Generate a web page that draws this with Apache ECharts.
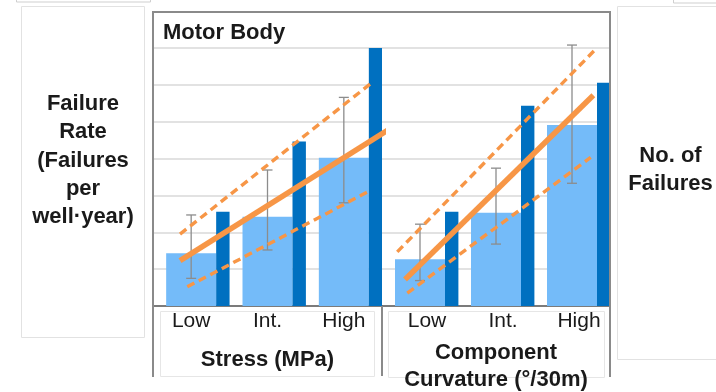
<!DOCTYPE html>
<html><head><meta charset="utf-8">
<script src="https://cdn.jsdelivr.net/npm/echarts@6/dist/echarts.min.js"></script>
<style>html,body{margin:0;padding:0;background:#fff}#c{width:716px;height:392px}</style>
</head><body><div id="c"></div>
<script>
// ---- data (gridline units; both value axes are unlabeled in the source) ----
const categories = ['Low', 'Int.', 'High'];
const stressRate = [1.43, 2.42, 4.02];
const stressCount = [2.56, 4.46, 7.03];
const stressErrLow = [0.75, 1.52, 2.80];
const stressErrHigh = [2.47, 3.69, 5.66];
const stressTrend = [[0.354, 1.23], [3.135, 4.85]];
const stressUpper = [[0.354, 1.95], [2.843, 6.02]];
const stressLower = [[0.449, 0.52], [2.843, 3.13]];
const curvRate = [1.27, 2.53, 4.91];
const curvCount = [2.56, 5.43, 6.06];
const curvErrLow = [0.69, 1.68, 3.33];
const curvErrHigh = [2.22, 3.74, 7.08];
const curvTrend = [[0.303, 0.72], [2.781, 5.72]];
const curvUpper = [[0.201, 1.47], [2.803, 6.95]];
const curvLower = [[0.333, 0.35], [2.746, 4.03]];
const yMin = 0, yMax = 7, yStep = 1;

const FONT = '"Liberation Sans", Arial, sans-serif';
const LIGHT = '#74BBF9', DARK = '#0070C0', ORANGE = '#F79646', ERR = '#8c8c8c';
const OFF = { axisLine: { show: false }, axisTick: { show: false }, axisLabel: { show: false }, splitLine: { show: false }, splitArea: { show: false } };

function errSeries(xi, yi, lo, hi) {
  return {
    type: 'custom', xAxisIndex: xi, yAxisIndex: yi, z: 4, clip: false, silent: true,
    data: categories.map((c, i) => [i, lo[i], hi[i]]),
    renderItem: function (params, api) {
      const a = api.coord([api.value(0), api.value(1)]);
      const b = api.coord([api.value(0), api.value(2)]);
      const st = { stroke: ERR, lineWidth: 1.3 };
      return { type: 'group', children: [
        { type: 'line', shape: { x1: a[0], y1: a[1], x2: b[0], y2: b[1] }, style: st },
        { type: 'line', shape: { x1: a[0] - 5, y1: a[1], x2: a[0] + 5, y2: a[1] }, style: st },
        { type: 'line', shape: { x1: b[0] - 5, y1: b[1], x2: b[0] + 5, y2: b[1] }, style: st }
      ]};
    }
  };
}
function lineSeries(xi, yi, data, solid) {
  return {
    type: 'line', xAxisIndex: xi, yAxisIndex: yi, data: data, symbol: 'none', clip: false, z: 5, silent: true,
    lineStyle: { color: ORANGE, width: solid ? 5.5 : 3.4, type: solid ? 'solid' : [8, 5], cap: 'butt' }
  };
}
function barSet(xi, yiRate, yiCount, rate, count) {
  return [
    { type: 'bar', xAxisIndex: xi, yAxisIndex: yiRate, data: categories.map(() => 0), barWidth: 13.4, barGap: '0%',
      itemStyle: { color: 'rgba(0,0,0,0)' }, silent: true },
    { type: 'bar', xAxisIndex: xi, yAxisIndex: yiRate, data: rate, barWidth: 50, barGap: '0%',
      itemStyle: { color: LIGHT } },
    { type: 'bar', xAxisIndex: xi, yAxisIndex: yiCount, data: count, barWidth: 13.4, barGap: '0%',
      itemStyle: { color: DARK } }
  ];
}
const hiddenY = (g, pos) => Object.assign({ type: 'value', gridIndex: g, position: pos, min: yMin, max: yMax, interval: yStep, show: false }, OFF);
const hiddenX = (g, pos, max) => Object.assign({ type: 'value', gridIndex: g, position: pos, min: 0, max: max, show: false }, OFF);
const catAxis = (g, name, nameGap, pad) => ({
  type: 'category', gridIndex: g, position: 'bottom', data: categories,
  axisLine: { show: true, onZero: false, lineStyle: { color: '#595959', width: 1.5 } },
  axisTick: { show: false },
  splitLine: { show: false },
  axisLabel: { fontSize: 21, color: '#1a1a1a', fontFamily: FONT, margin: 5, lineHeight: 21, padding: pad },
  name: name, nameLocation: 'middle', nameGap: nameGap,
  nameTextStyle: { fontSize: 22, fontWeight: 'bold', color: '#1a1a1a', fontFamily: FONT, lineHeight: 26.7 }
});

const chart = echarts.init(document.getElementById('c'), null, { renderer: 'canvas' });
chart.setOption({
  animation: false,
  backgroundColor: '#ffffff',
  title: { text: 'Motor Body', left: 163, top: 22, padding: 0,
    textStyle: { fontSize: 22, fontWeight: 'bold', color: '#1a1a1a', fontFamily: FONT } },
  grid: [
    { left: 153, top: 48, width: 229, height: 258, outerBoundsMode: 'none', containLabel: false, show: false },
    { left: 382, top: 48, width: 228, height: 258, outerBoundsMode: 'none', containLabel: false, show: false },
    { left: 153, top: 48, width: 457, height: 258, outerBoundsMode: 'none', containLabel: false, show: false }
  ],
  xAxis: [
    catAxis(0, 'Stress (MPa)', 41, [0, 0, 0, 0]),
    catAxis(1, 'Component\nCurvature (°/30m)', 34, [0, 0, 0, 14]),
    hiddenX(0, 'top', 3),
    hiddenX(1, 'top', 3),
    hiddenX(2, 'bottom', 1)
  ],
  yAxis: [
    hiddenY(0, 'left'), hiddenY(0, 'right'), hiddenY(1, 'left'), hiddenY(1, 'right'),
    { type: 'value', gridIndex: 2, min: yMin, max: yMax, interval: yStep,
      axisLine: { show: false }, axisTick: { show: false }, axisLabel: { show: false },
      splitLine: { show: true, lineStyle: { color: '#d9d9d9', width: 1.5 } } }
  ],
  series: [
    ...barSet(0, 0, 1, stressRate, stressCount),
    ...barSet(1, 2, 3, curvRate, curvCount),
    errSeries(0, 0, stressErrLow, stressErrHigh),
    errSeries(1, 2, curvErrLow, curvErrHigh),
    lineSeries(2, 0, stressUpper, false),
    lineSeries(2, 0, stressLower, false),
    lineSeries(2, 0, stressTrend, true),
    lineSeries(3, 2, curvUpper, false),
    lineSeries(3, 2, curvLower, false),
    lineSeries(3, 2, curvTrend, true)
  ],
  graphic: [
    // faint text boxes
    { type: 'rect', silent: true, shape: { x: 21.5, y: 6.5, width: 123, height: 331 }, style: { fill: 'none', stroke: '#e2e2e2', lineWidth: 1 } },
    { type: 'rect', silent: true, shape: { x: 617.5, y: 6.5, width: 110, height: 353 }, style: { fill: 'none', stroke: '#e2e2e2', lineWidth: 1 } },
    { type: 'rect', silent: true, shape: { x: 160.5, y: 311.5, width: 214, height: 65 }, style: { fill: 'none', stroke: '#e6e6e6', lineWidth: 1 } },
    { type: 'rect', silent: true, shape: { x: 388.5, y: 311.5, width: 216, height: 66 }, style: { fill: 'none', stroke: '#e6e6e6', lineWidth: 1 } },
    { type: 'rect', silent: true, shape: { x: 16.5, y: -10, width: 134, height: 12 }, style: { fill: 'none', stroke: '#cfcfcf', lineWidth: 1 } },
    { type: 'rect', silent: true, shape: { x: 673.5, y: -10, width: 60, height: 13 }, style: { fill: 'none', stroke: '#cfcfcf', lineWidth: 1 } },
    // outer frame and panel divider
    { type: 'polyline', silent: true, z: 10, shape: { points: [[153, 377], [153, 12], [610, 12], [610, 377]] },
      style: { fill: 'none', stroke: '#8a8a8a', lineWidth: 2 } },
    { type: 'line', silent: true, z: 10, shape: { x1: 382, y1: 306, x2: 382, y2: 376 }, style: { stroke: '#8a8a8a', lineWidth: 2 } },
    // side axis titles
    { type: 'text', silent: true, style: { x: 83, y: 160.5, text: 'Failure\nRate\n(Failures\nper\nwell·year)',
      textAlign: 'center', textVerticalAlign: 'middle', font: 'bold 22px ' + FONT, lineHeight: 28.4, fill: '#1a1a1a' } },
    { type: 'text', silent: true, style: { x: 670.5, y: 170, text: 'No. of\nFailures',
      textAlign: 'center', textVerticalAlign: 'middle', font: 'bold 22px ' + FONT, lineHeight: 28.3, fill: '#1a1a1a' } }
  ]
});
</script></body></html>
